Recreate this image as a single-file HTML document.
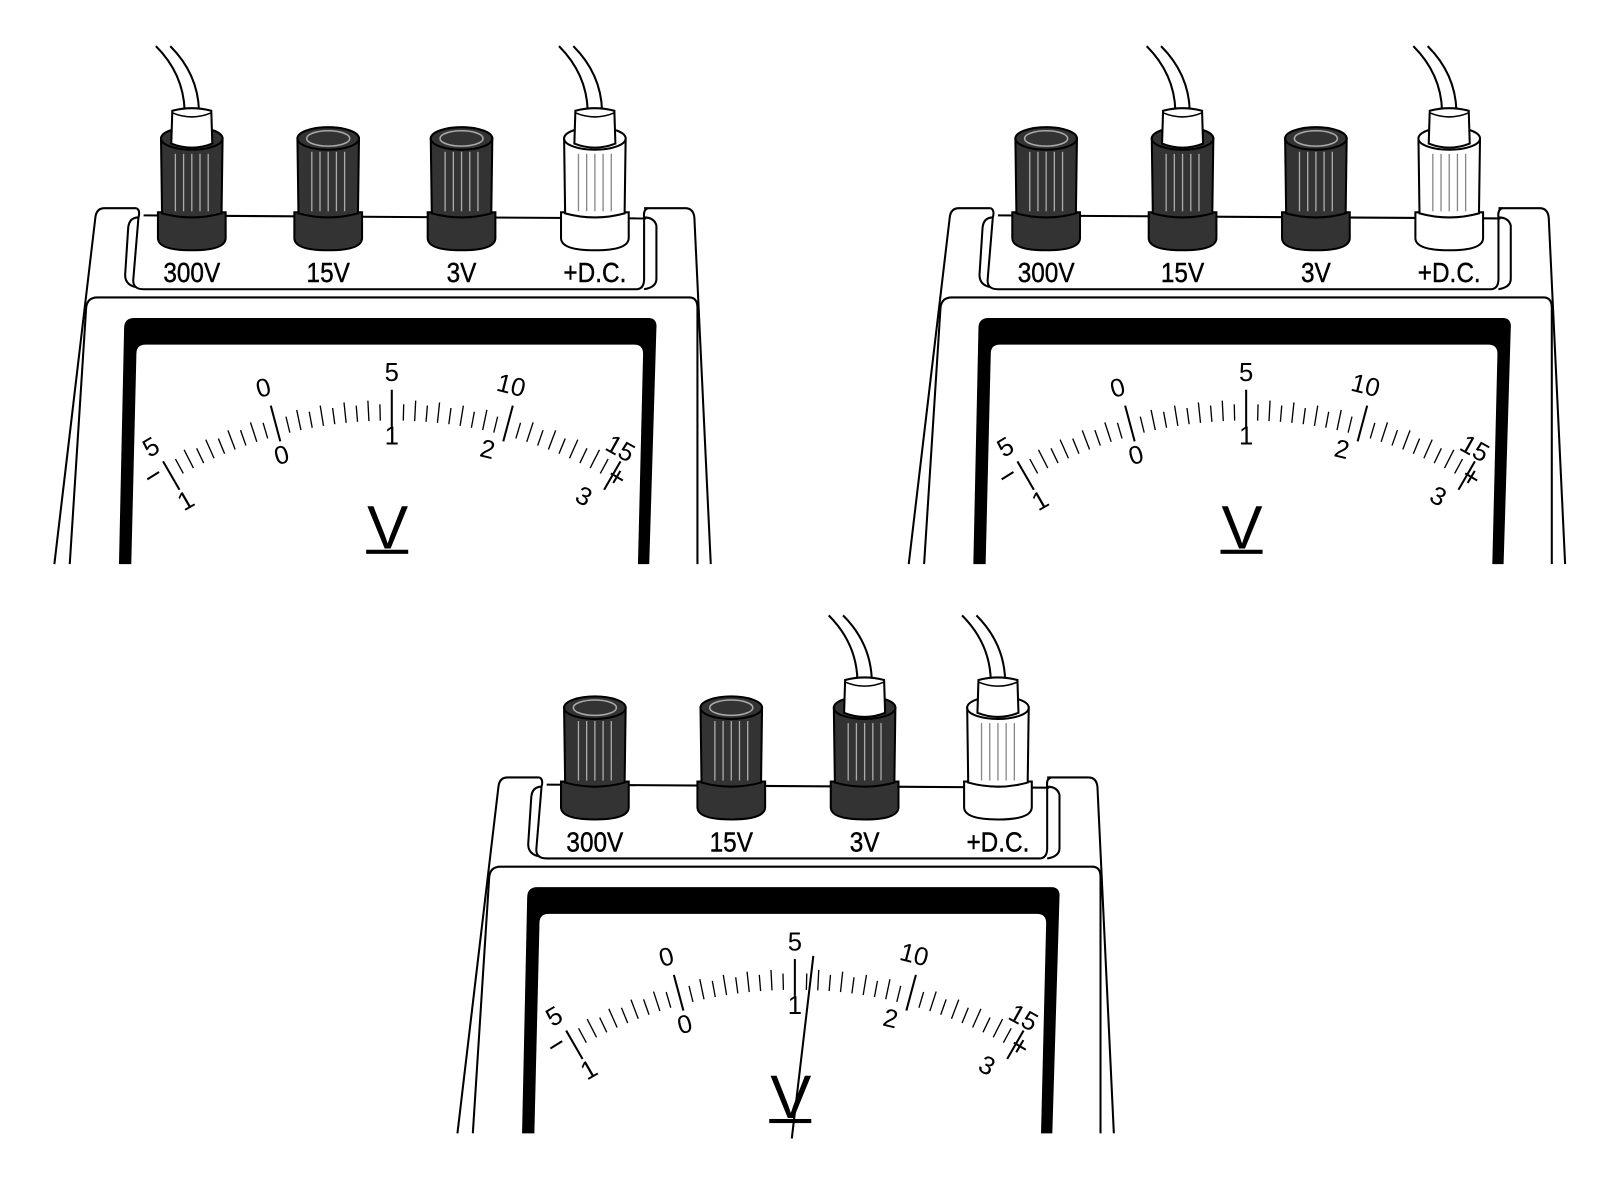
<!DOCTYPE html>
<html><head><meta charset="utf-8"><style>
html,body{margin:0;padding:0;background:#fff}
svg{display:block}
text{font-family:"Liberation Sans",sans-serif}
</style></head><body>
<svg id="s" width="1600" height="1200" viewBox="0 0 1560 1170" preserveAspectRatio="none" xmlns="http://www.w3.org/2000/svg"></svg>
<script>
let out="";
function knob(cx,white,plug){
  let f=white?"#fff":"#333", rib=white?"#888":"#aaa";
  let s="";
  s+=`<path d="M${cx-33},207 L${cx-33},232 Q${cx-33},244 ${cx},244 Q${cx+33},244 ${cx+33},232 L${cx+33},207 Z" fill="${f}" stroke="#000" stroke-width="2"/>`;
  s+=`<path d="M${cx-30},135 L${cx-29},208 Q${cx},216 ${cx+29},208 L${cx+30},135 Z" fill="${f}" stroke="#000" stroke-width="2"/>`;
  for(let d of [-16,-8,0,8,16]) s+=`<line x1="${cx+d}" y1="${plug?150:148}" x2="${cx+d}" y2="206" stroke="${rib}" stroke-width="1.3"/>`;
  s+=`<ellipse cx="${cx}" cy="135" rx="30" ry="11" fill="${f}" stroke="#000" stroke-width="2"/>`;
  if(plug){
    s+=`<path d="M${cx-35},45 Q${cx-8},72 ${cx-7},108 M${cx-21},45 Q${cx+6},72 ${cx+7},108" fill="none" stroke="#000" stroke-width="2"/>`;
    s+=`<path d="M${cx-19},108 L${cx-20},140 Q${cx},148 ${cx+20},140 L${cx+19},108 Q${cx},103 ${cx-19},108 Z" fill="#fff" stroke="#000" stroke-width="2"/>`;
    s+=`<path d="M${cx-19},110 Q${cx},118 ${cx+19},110" fill="none" stroke="#000" stroke-width="1.5"/>`;
  } else {
    s+=`<ellipse cx="${cx}" cy="135" rx="21" ry="7.5" fill="${f}" stroke="${white?'#000':'#aaa'}" stroke-width="1.5"/>`;
  }
  return s;
}
function meter(dx,dy,conn,needle){
  let s=`<g transform="translate(${dx},${dy})">`;
  s+=`<path d="M53,550 L93,212 Q94,203 102,203 L133,203" fill="none" stroke="#000" stroke-width="2"/>`;
  s+=`<path d="M628,203 L668,203 Q676,203 677,212 L693,550" fill="none" stroke="#000" stroke-width="2"/>`;
  s+=`<path d="M68,550 L84,300 Q85,290 95,290 L672,290 Q680,290 680,300 L680,550" fill="none" stroke="#000" stroke-width="2"/>`;
  s+=`<path d="M133,203 Q137,205 135,212 L130,272 Q129,282 140,282 L620,282 Q628,282 628,272 L628,212 Q627,204 632,203" fill="none" stroke="#000" stroke-width="2"/>`;
  s+=`<path d="M135,212 Q126,212 125,222 L122,268 Q122,278 133,280 M628,212 Q638,212 640,220 L640,272 Q640,280 628,282" fill="none" stroke="#000" stroke-width="2"/>`;
  s+=`<line x1="140" y1="210" x2="630" y2="213" stroke="#000" stroke-width="2"/>`;
  const xs=[187,320,450,580];
  for(let i=0;i<4;i++) s+=knob(xs[i],i==3,conn.includes(i));
  const lb=["300V","15V","3V","+D.C."];
  for(let i=0;i<4;i++) s+=`<text x="${xs[i]}" y="275" font-size="27" text-anchor="middle" stroke="#000" stroke-width="0.4" transform="translate(${xs[i]},275) scale(0.88,1) translate(${-xs[i]},-275)">${lb[i]}</text>`;
  s+=`<path d="M116,550 L121,320 Q121,310 131,310 L632,310 Q641,310 640,320 L633,550 L622,550 L627,345 Q627,336 618,336 L142,336 Q133,336 133,345 L128,550 Z" fill="#000"/>`;
  const cx=382,cy=836,R=426;
  for(let k=0;k<=40;k++){
    let a=(-30+k*1.5)*Math.PI/180;
    let L=(k%10==0)?30:(k%2==0?20:16);
    let r0=R, r1=R+L;
    if(k%10==0){r0=R-6;}
    if(k==0||k==40){r0=R-12;r1=R+20;}
    let x0=cx+r0*Math.sin(a),y0=cy-r0*Math.cos(a),x1=cx+r1*Math.sin(a),y1=cy-r1*Math.cos(a);
    s+=`<line x1="${x0.toFixed(1)}" y1="${y0.toFixed(1)}" x2="${x1.toFixed(1)}" y2="${y1.toFixed(1)}" stroke="#000" stroke-width="${k%10==0?2:1.3}"/>`;
  }
  function lab(t,deg,r,fs){let a=deg*Math.PI/180;let x=cx+r*Math.sin(a),y=cy-r*Math.cos(a);
    return `<text x="${x.toFixed(1)}" y="${y.toFixed(1)}" font-size="${fs}" text-anchor="middle" dominant-baseline="middle" transform="rotate(${deg} ${x.toFixed(1)} ${y.toFixed(1)})">${t}</text>`;}
  s+=lab("5",-30.4,462,25)+lab("0",-15.3,473,25)+lab("5",0,471,25)+lab("10",14.2,473,25)+lab("15",29.2,455,25);
  s+=lab("1",-30,400,25)+lab("0",-15.3,405,25)+lab("1",0,409,25)+lab("2",13.2,407,25)+lab("3",28,397,25);
  s+=lab("−",-32,437,28)+lab("+",30.6,429,28);
  s+=`<text x="378" y="535" font-size="60" text-anchor="middle">V</text>`;
  s+=`<rect x="357" y="536" width="41" height="4" fill="#000"/>`;
  if(needle) s+=`<line x1="379" y1="555" x2="400" y2="377" stroke="#000" stroke-width="2"/>`;
  s+=`</g>`;
  return s;
}
out+=meter(0,0,[0,3],false);
out+=meter(833,0,[1,3],false);
out+=meter(393,555,[2,3],true);
document.getElementById("s").innerHTML=out;
</script>
</body></html>
